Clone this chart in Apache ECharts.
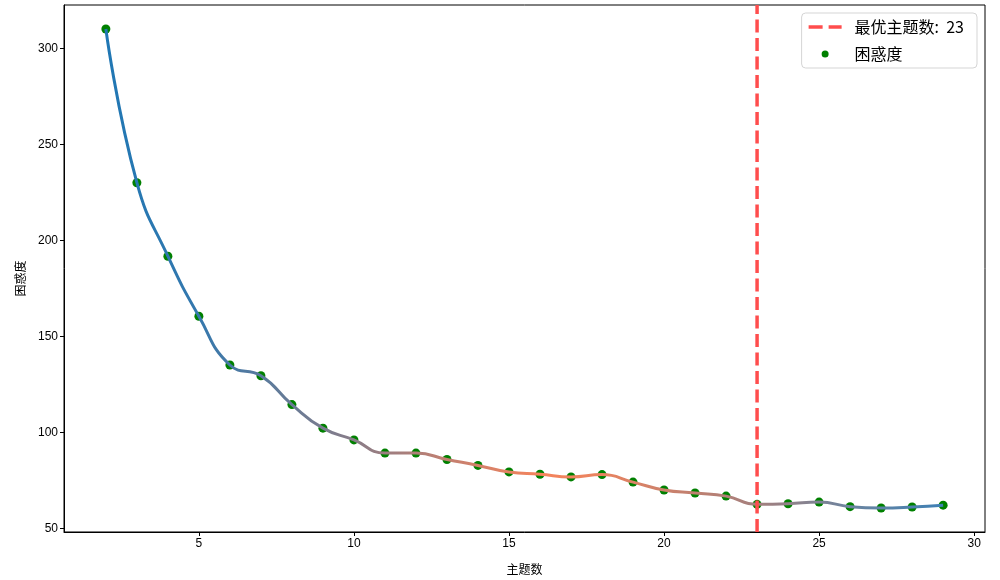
<!DOCTYPE html>
<html>
<head>
<meta charset="utf-8">
<script src="https://cdn.jsdelivr.net/npm/echarts@6/dist/echarts.min.js"></script>
<style>html,body{margin:0;padding:0;background:#fff}#c{width:1000px;height:580px}</style>
</head>
<body>
<div id="c"></div>
<script>
const topics = [2,3,4,5,6,7,8,9,10,11,12,13,14,15,16,17,18,19,20,21,22,23,24,25,26,27,28,29];
const perplexity = [310.2,230.1,191.8,160.5,135.1,129.5,114.5,102.2,96.1,89.2,89.2,85.9,82.8,79.4,78.2,76.8,78.0,74.1,70.0,68.4,66.8,62.5,62.8,63.7,61.3,60.6,61.1,62.1];
const bestTopic = 23;
const xTicks = [5,10,15,20,25,30];
const yTicks = [50,100,150,200,250,300];

const yMin = 48.1, yMax = 322.7;
const pts = topics.map((t,i)=>[t, perplexity[i]]);
const font = '"Liberation Sans", Arial, "Noto Sans CJK SC", sans-serif';
const cjk = '"Noto Sans CJK SC", sans-serif';
const bestName = '最优主题数: ' + bestTopic;

// legend icons drawn in a 33x14 box (tiny corner marks keep the box size)
const boxMarks = 'M0,0 L0.01,0 L0,0.01 Z M33,14 L32.99,14 L33,13.99 Z ';
const dashIcon = 'path://' + boxMarks + 'M0,5.25 L14,5.25 L14,8.75 L0,8.75 Z M20,5.25 L33,5.25 L33,8.75 L20,8.75 Z';
const dotIcon = 'path://' + boxMarks + 'M13,7 A3.5,3.5 0 1,0 20,7 A3.5,3.5 0 1,0 13,7 Z';

const chart = echarts.init(document.getElementById('c'), null, {renderer:'canvas'});
chart.setOption({
  animation:false,
  backgroundColor:'#fff',
  grid:{left:64,right:15,top:5,bottom:45,show:true,borderColor:'#000',borderWidth:1,containLabel:false},
  xAxis:{
    type:'value',min:0.65,max:30.35,
    name:'主题数',nameLocation:'middle',nameGap:31,
    nameTextStyle:{fontFamily:cjk,fontSize:12,color:'#000'},
    axisLine:{show:true,onZero:false,lineStyle:{color:'#000',width:1}},
    axisTick:{show:true,length:4,customValues:xTicks,lineStyle:{color:'#000'}},
    axisLabel:{customValues:xTicks,color:'#000',fontFamily:font,fontSize:12,margin:6},
    splitLine:{show:false}
  },
  yAxis:{
    type:'value',min:yMin,max:yMax,
    name:'困惑度',nameLocation:'middle',nameGap:38,
    nameTextStyle:{fontFamily:cjk,fontSize:12,color:'#000',padding:[0,20,0,0]},
    axisLine:{show:true,onZero:false,lineStyle:{color:'#000',width:1}},
    axisTick:{show:true,length:4,customValues:yTicks,lineStyle:{color:'#000'}},
    axisLabel:{customValues:yTicks,color:'#000',fontFamily:font,fontSize:12,margin:6},
    splitLine:{show:false}
  },
  legend:{
    orient:'vertical',right:23,top:13,
    data:[{name:bestName,icon:dashIcon},{name:'困惑度',icon:dotIcon}],
    backgroundColor:'rgba(255,255,255,0.8)',
    borderColor:'#d5d5d5',borderWidth:1,borderRadius:4,
    padding:[6,13,6,7],
    itemWidth:33,itemHeight:14,itemGap:11,
    textStyle:{fontFamily:cjk,fontSize:16,color:'#000',padding:[0,0,0,8]},
    formatter:function(n){return n.replace(': ', ':  ');}
  },
  series:[
    {
      type:'scatter',name:'困惑度',data:pts,symbol:'circle',symbolSize:9,
      itemStyle:{color:'#008000',opacity:1},z:2
    },
    {
      type:'line',name:'curve',data:pts,smooth:0.5,showSymbol:false,symbol:'none',
      lineStyle:{width:3,color:new echarts.graphic.LinearGradient(0,0,1,0,[
        {offset:0,color:'#1f77b4'},
        {offset:0.11,color:'#3478ae'},
        {offset:0.19,color:'#5a7a9c'},
        {offset:0.30,color:'#8a7d88'},
        {offset:0.41,color:'#c48070'},
        {offset:0.52,color:'#f5845c'},
        {offset:0.59,color:'#e98360'},
        {offset:0.70,color:'#c08070'},
        {offset:0.78,color:'#a2807f'},
        {offset:0.89,color:'#6a84a0'},
        {offset:1,color:'#3d80b5'}
      ])},
      z:3,silent:true
    },
    {
      type:'line',name:bestName,data:[[bestTopic,yMin],[bestTopic,yMax]],
      symbol:'none',showSymbol:false,
      lineStyle:{color:'#ff4d4d',width:3.5,type:[13,5.5]},
      itemStyle:{color:'#ff4d4d'},
      z:4
    }
  ]
});
</script>
</body>
</html>
